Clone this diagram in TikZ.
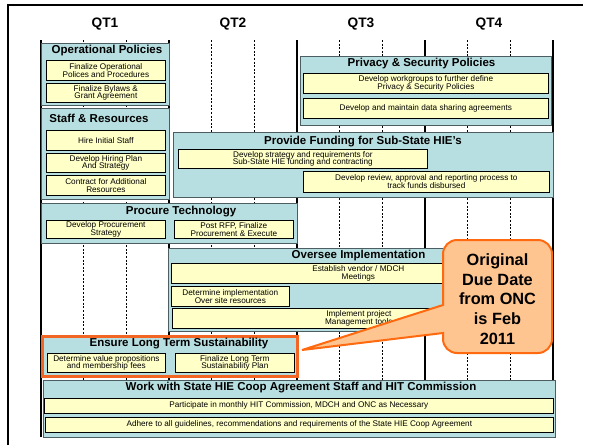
\documentclass[tikz,border=0pt]{standalone}
\usepackage{fontspec}
\setmainfont{Liberation Sans}
\definecolor{tealfill}{HTML}{B7DEE0}
\definecolor{yelfill}{HTML}{FFFFC8}
\definecolor{tborder}{HTML}{4D5E62}
\definecolor{orngline}{HTML}{F26522}
\definecolor{callline}{HTML}{FF6A10}
\definecolor{callfill}{HTML}{FFC591}
\tikzset{
  tealbox/.style={draw=tborder, line width=1pt, fill=tealfill, anchor=north west, inner sep=0pt},
  ensbox/.style={draw=orngline, line width=2.5pt, fill=tealfill, anchor=north west, inner sep=0pt},
  subbox/.style={draw=black, line width=0.7pt, fill=yelfill, anchor=north west, inner sep=0pt,
    align=center, font=\fontsize{8.2}{7.8}\selectfont},
  boxtitle/.style={font=\fontsize{11.5}{13}\selectfont\bfseries, inner sep=0pt},
  qlabel/.style={font=\fontsize{13.7}{15}\selectfont\bfseries, inner sep=0pt},
  solidgrid/.style={line width=1.2pt},
  dashgrid/.style={line width=0.7pt, dash pattern=on 2pt off 1.6pt},
  calloutshape/.style={draw=callline, line width=2pt, fill=callfill},
  callouttext/.style={font=\fontsize{16.3}{19.7}\selectfont\bfseries, align=center, inner sep=0pt},
  frameline/.style={line width=2.5pt},
}
\newcommand{\mybox}[7]{\node[#1, minimum width=#5pt, minimum height=#6pt] (#2) at (#3,#4) {#7};}
\begin{document}
\begin{tikzpicture}[x=1pt,y=-1pt]
\useasboundingbox (0,0) rectangle (591,445);
% outer frame
\coordinate (fbl) at (8,445);
\coordinate (ftl) at (8,5);
\coordinate (ftr) at (583,5);
\draw[frameline] (fbl) -- (ftl) -- (ftr);
% quarter labels
\node[qlabel] (q1) at (105,24) {QT1};
\node[qlabel] (q2) at (233,24) {QT2};
\node[qlabel] (q3) at (361,24) {QT3};
\node[qlabel] (q4) at (489,24) {QT4};
% grid
\foreach \gx in {41,169,297,425,553} {
  \draw[solidgrid] (\gx,40) -- (\gx,437);
}
\foreach \gx in {83.7,126.3,211.7,254.3,339.7,382.3,467.7,510.3} {
  \draw[dashgrid] (\gx,40) -- (\gx,437);
}
% teal boxes
\mybox{tealbox}{op}{41}{43}{128}{62}{}
\mybox{tealbox}{staff}{41}{108}{128}{91}{}
\mybox{tealbox}{priv}{300}{56}{251}{69}{}
\mybox{tealbox}{fund}{173}{132}{380}{65}{}
\mybox{tealbox}{proc}{41}{203}{256}{40}{}
\mybox{tealbox}{over}{168}{248}{381}{83}{}
\mybox{ensbox}{ens}{41}{335}{255}{40}{}
\mybox{tealbox}{work}{43}{380}{512}{57}{}
% titles
\node[boxtitle] (opT) at (107,51) {Operational Policies};
\node[boxtitle] (stT) at (99,118.5) {Staff \& Resources};
\node[boxtitle] (prT) at (421.5,64) {Privacy \& Security Policies};
\node[boxtitle] (fuT) at (363,142) {Provide Funding for Sub-State HIE’s};
\node[boxtitle] (pcT) at (181,212) {Procure Technology};
\node[boxtitle] (ovT) at (358.5,256) {Oversee Implementation};
\node[boxtitle] (enT) at (179,344) {Ensure Long Term Sustainability};
\node[boxtitle] (wkT) at (301,388) {Work with State HIE Coop Agreement Staff and HIT Commission};
% yellow sub boxes
\mybox{subbox}{op1}{46}{60}{119}{20}{Finalize Operational\\Polices and Procedures}
\mybox{subbox}{op2}{46}{83}{119}{19}{Finalize Bylaws \&\\Grant Agreement}
\mybox{subbox}{st1}{46}{130}{119}{20}{Hire Initial Staff}
\mybox{subbox}{st2}{46}{153}{119}{19}{Develop Hiring Plan\\And Strategy}
\mybox{subbox}{st3}{46}{175}{119}{20}{Contract for Additional\\Resources}
\mybox{subbox}{pr1}{303}{73}{245}{20}{Develop workgroups to further define\\Privacy \& Security Policies}
\mybox{subbox}{pr2}{303}{98}{245}{20}{Develop and maintain data sharing agreements}
\mybox{subbox}{fu1}{178}{149}{249}{19}{Develop strategy and requirements for\\Sub-State HIE funding and contracting}
\mybox{subbox}{fu2}{303}{171}{246}{21}{Develop review, approval and reporting process to\\track funds disbursed}
\mybox{subbox}{pc1}{46}{220}{119}{18}{Develop Procurement\\Strategy}
\mybox{subbox}{pc2}{174}{220}{119}{18}{Post RFP, Finalize\\Procurement \& Execute}
\mybox{subbox}{ov1}{171}{263}{374}{20}{Establish vendor / MDCH\\Meetings}
\mybox{subbox}{ov2}{171}{286}{118}{20}{Determine implementation\\Over site resources}
\mybox{subbox}{ov3}{172}{308}{373}{20}{Implement project\\Management tools}
\mybox{subbox}{en1}{47}{353}{118}{19}{Determine value propositions\\and membership fees}
\mybox{subbox}{en2}{175}{353}{119}{19}{Finalize Long Term\\Sustainability Plan}
\mybox{subbox}{wk1}{44}{398}{509}{15}{Participate in monthly HIT Commission, MDCH and ONC as Necessary}
\mybox{subbox}{wk2}{45}{417}{508}{15}{Adhere to all guidelines, recommendations and requirements of the State HIE Coop Agreement}
% callout
\coordinate (tip) at (302,350);
\draw[calloutshape] (443,305) [rounded corners=14pt] -- (443,240) -- (552,240) -- (552,353) -- (443,353) [sharp corners] -- (443,333) -- (tip) -- cycle;
\node[callouttext] (note) at (497.5,299) {Original\\Due Date\\from ONC\\is Feb\\2011};
\end{tikzpicture}
\end{document}
